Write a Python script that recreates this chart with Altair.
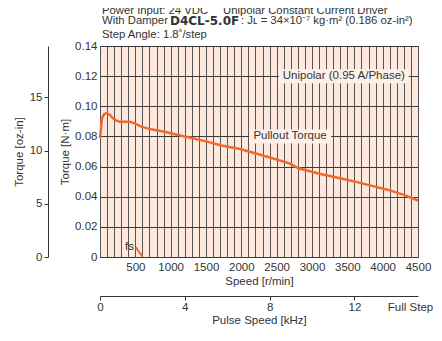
import altair as alt
import pandas as pd

# ---- data ----
speed_rpm = [0, 28, 60, 90, 140, 184, 230, 278, 350, 420, 490, 584, 726, 914, 1103,
             1297, 1500, 1721, 1981, 2193, 2476, 2700, 2806, 3137, 3400, 3608, 3850,
             4080, 4300, 4500]
torque_nm = [0.0788, 0.092, 0.0948, 0.0953, 0.0943, 0.092, 0.0905, 0.0898, 0.0897,
             0.0898, 0.0887, 0.0865, 0.0847, 0.0831, 0.081, 0.079, 0.0767, 0.074,
             0.0717, 0.0688, 0.065, 0.0618, 0.0589, 0.0549, 0.0522, 0.050, 0.0472,
             0.0445, 0.0412, 0.0375]
fs_rpm = [505, 604]
fs_torque = [0.0065, 0.0]

label_text = ["Unipolar (0.95 A/Phase)", "Pullout Torque"]
label_rpm = [3450, 2690]
label_torque = [0.12, 0.08]

speed_ticks = list(range(0, 4501, 100))
torque_ticks = [0, 0.02, 0.04, 0.06, 0.08, 0.10, 0.12, 0.14]
ozin_ticks = [0, 5, 10, 15]
pulse_ticks = [0, 4, 8, 12, 15]
NM_TO_OZIN = 141.612

FONT = "Liberation Sans, Arial, sans-serif"
FS = 11.5
CURVE = "#f26a2b"
TXT = "#333333"
BG = "#fde9de"

curve_df = pd.DataFrame({"rpm": speed_rpm, "torque": torque_nm})
fs_df = pd.DataFrame({"rpm": fs_rpm, "torque": fs_torque})
lab_df = pd.DataFrame({"text": label_text, "rpm": label_rpm, "torque": label_torque})

xscale = alt.Scale(domain=[0, 4500], nice=False, zero=False)
yscale = alt.Scale(domain=[0, 0.14], nice=False, zero=False)

x_axis = alt.Axis(
    values=speed_ticks, tickCount=len(speed_ticks),
    labelExpr="datum.value % 500 === 0 && datum.value > 0 ? format(datum.value, 'd') : ''",
    grid=True, gridColor="#555555", gridWidth=1, tickSize=0, domain=False,
    labelPadding=4, labelFlush=False, labelOverlap=False,
    title="Speed [r/min]", titlePadding=3,
)
y_axis = alt.Axis(
    values=torque_ticks, tickCount=len(torque_ticks),
    labelExpr="datum.value === 0 ? '0' : format(datum.value, '.2f')",
    grid=True, gridColor="#3a3a3a", gridWidth=1, tickSize=0, domain=False,
    labelPadding=3, labelOverlap=False,
    title="Torque [N·m]", titlePadding=4,
)

def X():
    return alt.X("rpm:Q", scale=xscale, axis=x_axis)

def Y():
    return alt.Y("torque:Q", scale=yscale, axis=y_axis)

line = alt.Chart(curve_df).mark_line(color=CURVE, strokeWidth=2.5).encode(x=X(), y=Y())
fs_line = alt.Chart(fs_df).mark_line(color=CURVE, strokeWidth=2).encode(x=X(), y=Y())

fs_text = alt.Chart(pd.DataFrame({"t": ["fs"], "rpm": [480], "torque": [0.0068]})).mark_text(
    align="right", baseline="middle", font=FONT, fontSize=FS, color=TXT
).encode(x=X(), y=Y(), text="t:N")

# label background boxes
box_w = [130, 82]
box_h = 14
boxes = []
for i in range(len(label_text)):
    h = box_h / box_w[i]
    path = f"M-1,{-h:.4f}L1,{-h:.4f}L1,{h:.4f}L-1,{h:.4f}Z"
    boxes.append(
        alt.Chart(lab_df.iloc[[i]]).mark_point(
            shape=path, filled=True, fill="#fdf1ea", opacity=1, strokeWidth=0,
            size=box_w[i] ** 2,
        ).encode(x=X(), y=Y())
    )
labels = alt.Chart(lab_df).mark_text(
    font=FONT, fontSize=FS, color=TXT, baseline="middle", align="center"
).encode(x=X(), y=Y(), text="text:N")

# header text
one = pd.DataFrame({"a": [0]})
def htext(s, x, y, bold=False, font=FONT, size=11.3):
    return alt.Chart(one).mark_text(
        text=s, align="left", baseline="middle", font=font, fontSize=size,
        fontWeight="bold" if bold else "normal", color=TXT,
    ).encode(x=alt.value(x), y=alt.value(y))

header = [
    htext("Power Input: 24 VDC", 2, -35.5),
    htext("Unipolar Constant Current Driver", 123, -35.5),
    htext("With Damper", 2, -25.3),
    htext("D4CL-5.0F", 70, -25.3, bold=True, font="DejaVu Sans, sans-serif", size=12),
    htext(": Jʟ = 34×10⁻⁷ kg·m² (0.186 oz-in²)", 141, -25.3),
    htext("Step Angle: 1.8˚/step", 2, -11),
]

main = alt.layer(line, fs_line, fs_text, *boxes, labels, *header)

ozin = alt.Chart(curve_df).transform_calculate(
    oz=f"datum.torque * {NM_TO_OZIN}"
).mark_point(opacity=0).encode(
    x=alt.value(0),
    y=alt.Y("oz:Q", scale=alt.Scale(domain=[0, 0.14 * NM_TO_OZIN], nice=False),
            axis=alt.Axis(orient="left", offset=52, values=ozin_ticks, grid=False,
                          tickSize=4, labelPadding=2, domainColor=TXT, tickColor=TXT,
                          title="Torque [oz-in]", titlePadding=5)),
)

pulse = alt.Chart(pd.DataFrame({"khz": pulse_ticks})).mark_point(opacity=0).encode(
    y=alt.value(0),
    x=alt.X("khz:Q", scale=alt.Scale(domain=[0, 15], nice=False),
            axis=alt.Axis(orient="bottom", offset=39, values=pulse_ticks, grid=False,
                          labelExpr="datum.value === 15 ? 'Full Step' : datum.label",
                          labelOffset={"condition": {"test": "datum.value === 15", "value": -8},
                                       "value": 0},
                          tickColor={"condition": {"test": "datum.value === 15", "value": "transparent"},
                                     "value": TXT},
                          tickSize=4, labelPadding=1, domainColor=TXT,
                          labelFlush=False, labelOverlap=False,
                          title="Pulse Speed [kHz]", titlePadding=2)),
)

inner = alt.layer(main, ozin).resolve_scale(y="independent")
chart = alt.layer(inner, pulse).resolve_scale(x="independent").properties(
    width=318, height=211,
    autosize=alt.AutoSizeParams(type="none"),
    padding={"left": 92, "top": 38, "right": 16, "bottom": 70},
    background="white",
).configure_view(
    fill=BG, stroke="#333333", strokeWidth=1
).configure_axis(
    labelFont=FONT, titleFont=FONT, labelFontSize=FS, titleFontSize=FS,
    labelColor=TXT, titleColor=TXT, titleFontWeight="normal",
)

chart.save("out.html", embed_options={"renderer": "svg", "actions": False})
